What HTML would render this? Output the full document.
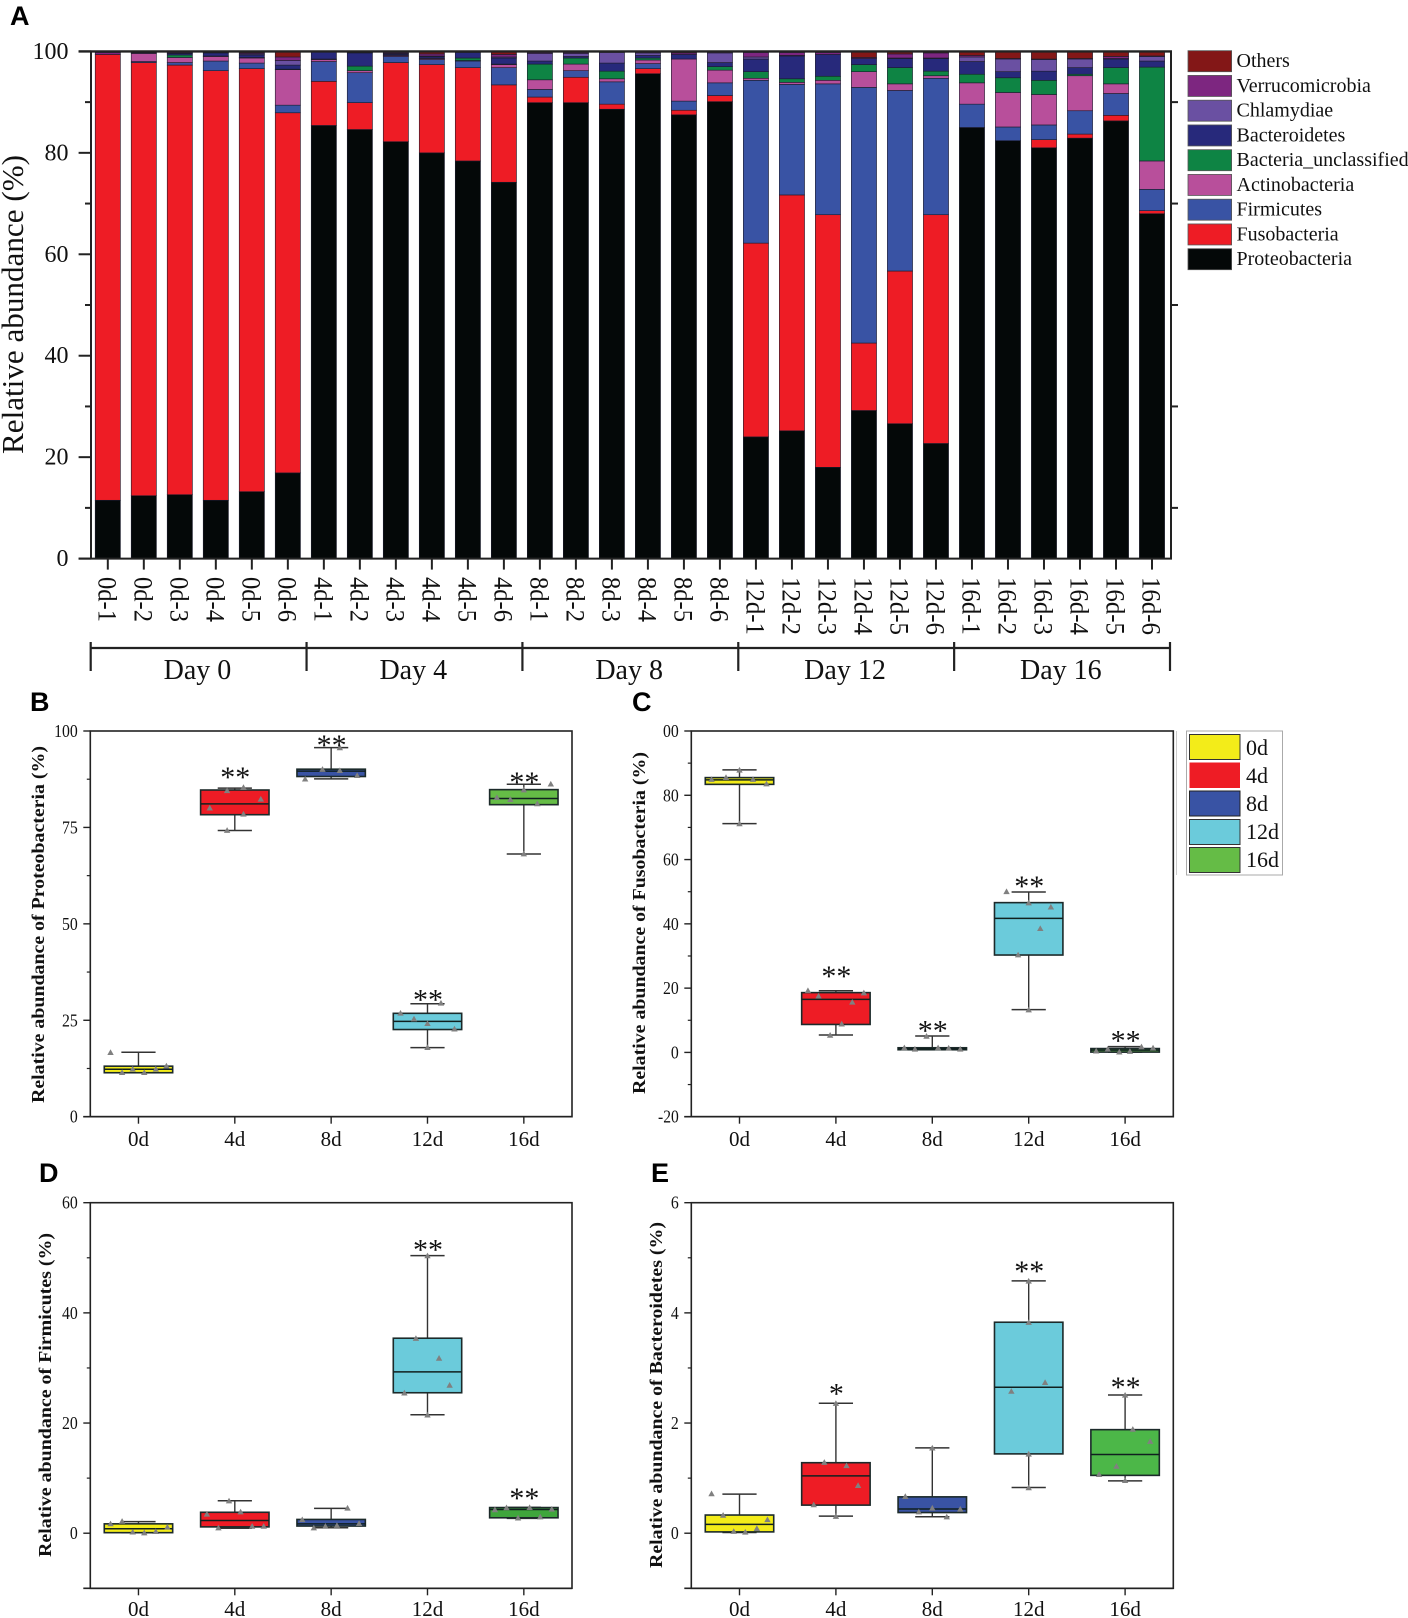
<!DOCTYPE html>
<html lang="en">
<head>
<meta charset="utf-8">
<title>Relative abundance of bacterial phyla</title>
<style>
html,body{margin:0;padding:0;background:#fff;}
svg{display:block;width:1408px;height:1618px;}
text{font-family:"Liberation Serif",serif;fill:#111;}
.plabel{font-family:"Liberation Sans",sans-serif;font-weight:700;fill:#000;}
.ytitle{font-weight:700;font-size:17.5px;}
</style>
</head>
<body>
<svg id="figure" xmlns="http://www.w3.org/2000/svg" width="1408" height="1618" viewBox="0 0 1408 1618">
  <rect x="0" y="0" width="1408" height="1618" fill="#fff"/>
  <text class="plabel" x="10" y="25" font-size="27">A</text>
  <text class="plabel" x="30" y="711" font-size="27">B</text>
  <text class="plabel" x="632" y="711" font-size="27">C</text>
  <text class="plabel" x="39" y="1182" font-size="27">D</text>
  <text class="plabel" x="651" y="1182" font-size="27">E</text>

  <text transform="translate(23,454) rotate(-90)" font-size="31" textLength="299" lengthAdjust="spacingAndGlyphs">Relative abundance (%)</text>
  <text class="ytitle" transform="translate(44,1103) rotate(-90)" textLength="357" lengthAdjust="spacingAndGlyphs">Relative abundance of Proteobacteria (%)</text>
  <text class="ytitle" transform="translate(645,1094) rotate(-90)" textLength="342" lengthAdjust="spacingAndGlyphs">Relative abundance of Fusobacteria (%)</text>
  <text class="ytitle" transform="translate(51,1557) rotate(-90)" textLength="324" lengthAdjust="spacingAndGlyphs">Relative abundance of Firmicutes (%)</text>
  <text class="ytitle" transform="translate(662,1568) rotate(-90)" textLength="346" lengthAdjust="spacingAndGlyphs">Relative abundance of Bacteroidetes (%)</text>

  <g id="panel-a"></g>
  <g id="group-brackets"></g>
  <g id="legend-a"></g>
  <g id="panel-b"></g>
  <g id="panel-c"></g>
  <g id="panel-d"></g>
  <g id="panel-e"></g>

  <g>
    <line x1="1176.5" y1="731" x2="1176.5" y2="875" stroke="#ccc" stroke-width="1"/>
    <rect x="1186.5" y="731" width="96" height="144" fill="#fff" stroke="#aaa" stroke-width="1"/>
    <rect x="1189.5" y="734.5" width="50.5" height="25" fill="#f3ec19" stroke="#333" stroke-width="1"/>
    <rect x="1189.5" y="762.5" width="50.5" height="25.5" fill="#ee1c25"/>
    <rect x="1189.5" y="791" width="50.5" height="25" fill="#3953a4" stroke="#222" stroke-width="1"/>
    <rect x="1189.5" y="819.5" width="50.5" height="25" fill="#6bcbdb" stroke="#333" stroke-width="1"/>
    <rect x="1189.5" y="847.5" width="50.5" height="25" fill="#65bc46" stroke="#333" stroke-width="1"/>
    <text x="1246" y="755" font-size="22">0d</text>
    <text x="1246" y="783" font-size="22">4d</text>
    <text x="1246" y="811" font-size="22">8d</text>
    <text x="1246" y="839" font-size="22">12d</text>
    <text x="1246" y="867" font-size="22">16d</text>
  </g>
</svg>

<script>
/* ---------- Panel A data ---------- */
const sampleLabels = ["0d-1","0d-2","0d-3","0d-4","0d-5","0d-6","4d-1","4d-2","4d-3","4d-4","4d-5","4d-6","8d-1","8d-2","8d-3","8d-4","8d-5","8d-6","12d-1","12d-2","12d-3","12d-4","12d-5","12d-6","16d-1","16d-2","16d-3","16d-4","16d-5","16d-6"];
const dayGroups = ["Day 0","Day 4","Day 8","Day 12","Day 16"];
const phylumNames = ["Proteobacteria","Fusobacteria","Firmicutes","Actinobacteria","Bacteria_unclassified","Bacteroidetes","Chlamydiae","Verrucomicrobia","Others"];
const proteobacteria = [11.5,12.4,12.6,11.5,13.2,16.9,85.4,84.6,82.2,80,78.4,74.2,89.9,89.9,88.6,95.6,87.5,90.1,24,25.2,18,29.2,26.6,22.7,85,82.4,81,82.9,86.3,68];
const fusobacteria = [87.9,85.4,84.7,84.7,83.4,71,8.7,5.3,15.6,17.4,18.4,19.2,1.1,5,1,1,0.9,1.2,38.2,46.5,49.8,13.3,30.1,45.1,0,0,1.6,0.8,1.1,0.6];
const firmicutes = [0,0.2,0.5,1.9,1.1,1.5,3.9,5.9,1.2,1,1.3,3.4,1.5,1.3,4.4,1,1.8,2.5,32.1,21.8,25.8,50.4,35.6,26.9,4.6,2.7,2.9,4.6,4.3,4.2];
const actinobacteria = [0,1.6,1,0.9,1,7,0.4,0.4,0.2,0.2,0.1,0.6,1.9,1.3,0.6,0.7,8.3,2.5,0.4,0.4,0.7,3.1,1.3,0.5,4.2,6.8,6,6.9,1.9,5.6];
const bacteriaUnclassified = [0,0,0.5,0.1,0.1,0.1,0.1,0.9,0.1,0.1,0.5,0.1,3.1,1.2,1.5,0.4,0,0.7,1.3,0.7,0.8,1.4,3.2,0.9,1.7,2.9,2.8,0.3,3.2,18.5];
const bacteroidetes = [0,0.1,0.3,0.6,0.5,0.8,1.4,2.6,0.2,0.3,1.1,1.2,0.6,0.3,1.6,0.5,0.9,0.8,2.5,4.5,4.3,1.2,1.8,2.5,2.5,1.2,1.8,1.3,1.7,1.2];
const chlamydiae = [0,0.1,0.1,0.1,0.2,0.9,0,0.1,0.1,0.1,0.1,0.2,1.5,0.6,2.1,0.5,0,1.9,0.4,0.1,0,0,0.1,0.1,0.9,2.5,2.3,1.7,0.1,0.9];
const verrucomicrobia = [0.4,0.1,0.2,0.1,0.2,0.7,0.1,0.1,0.2,0.4,0.1,0.5,0.2,0.2,0.1,0.2,0.3,0.2,0.9,0.6,0.4,0.2,0.8,1,0.3,0.1,0.1,0.1,0.4,0.1];
const others = [0.2,0.1,0.1,0.1,0.3,1.1,0,0.1,0.2,0.5,0,0.6,0.2,0.2,0.1,0.1,0.3,0.1,0.2,0.2,0.2,1.2,0.5,0.3,0.8,1.4,1.5,1.4,1,0.9];
const aTicks = [0,20,40,60,80,100];
const aMinorTicks = [10,30,50,70,90];

/* ---------- Box plot shared ---------- */
const dayLabels = ["0d","4d","8d","12d","16d"];

/* Panel B: Proteobacteria */
const bHigh = [16.7,85.2,95.7,29.3,86.2];
const bQ3 = [13.1,84.7,90.1,26.8,84.8];
const bMedian = [12.3,81.1,89.6,24.7,82.5];
const bQ1 = [11.4,78.3,88.2,22.6,80.9];
const bLow = [11.4,74.2,87.6,17.9,68.1];
const bPoints = [[16.7,11.5,12.4,11.5,12.4,13.2],[80.1,84.6,74.3,85.4,78.5,82.4],[87.6,90.1,89.8,95.7,88.5],[26.9,25.4,24.2,18,29.5,22.8],[82.8,82.3,84.8,68.2,81.2,86.3]];
const bJitter = [[-29,-17,-6,6,18,29],[-26,-8,-8,9,9,27],[-27,-9,9,9,27],[-28,-14,0,0,14,28],[-28,-14,0,0,14,28]];
const bStarHeights = [null,89.2,97.6,31.6,87.9];
const bStarText = ["","**","**","**","**"];
const bTicks = [0,25,50,75,100];
const bTickLabels = ["0","25","50","75","100"];
const bMinorTicks = [12.5,37.5,62.5,87.5];

/* Panel C: Fusobacteria */
const cHigh = [87.9,19.2,5.1,49.9,1.8];
const cQ3 = [85.5,18.6,1.45,46.6,1.2];
const cMedian = [84.8,16.5,1.1,41.7,0.7];
const cQ1 = [83.4,8.7,0.83,30.3,0.1];
const cLow = [71.2,5.4,0.9,13.3,0.1];
const cPoints = [[85,85.6,87.9,71.2,85,83.6],[19.3,17.6,5.4,8.9,15.7,18.6],[1.5,1.1,5.1,1.5,1.4,1.1],[50.1,30.4,46.6,13.3,38.6,45.3],[0.5,1.1,0.2,0.4,1.8,1.45]];
const cJitter = [[-29,-14,0,0,14,28],[-29,-18,-6,6,17,29],[-29,-18,-6,6,17,29],[-23,-11,0,0,12,23],[-30,-18,-6,5,17,29]];
const cStarHeights = [null,25.1,8.2,53.1,5.1];
const cStarText = ["","**","**","**","**"];
const cTicks = [-20,0,20,40,60,80,100];
const cTickLabels = ["-20","0","20","40","60","80","00"];
const cMinorTicks = [-10,10,30,50,70,90];

/* Panel D: Firmicutes */
const dHigh = [2.1,5.9,4.5,50.4,4.7];
const dQ3 = [1.7,3.8,2.5,35.4,4.66];
const dMedian = [0.8,2.3,1.7,29.3,4.3];
const dQ1 = [0.1,1.15,1.3,25.5,2.8];
const dLow = [0.1,0.9,1,21.5,2.7];
const dPoints = [[1.75,2.2,0.25,0.1,0.35,1.15],[3.5,1,5.9,3.9,1.3,1.3],[2.5,1,1.3,1.45,4.6,1.8],[25.5,35.4,50.4,21.5,31.8,26.9],[4.3,4.66,2.8,4.7,3,4.4]];
const dJitter = [[-29,-17,-6,6,18,30],[-29,-17,-6,6,18,30],[-30,-18,-6,6,17,29],[-24,-12,0,0,12,23],[-30,-18,-6,6,17,29]];
const dStarHeights = [null,null,null,52.3,7.2];
const dStarText = ["","","","**","**"];
const dTicks = [0,20,40,60];
const dTickLabels = ["0","20","40","60"];
const dMinorTicks = [-10,10,30,50];

/* Panel E: Bacteroidetes */
const eHigh = [0.71,2.36,1.55,4.58,2.51];
const eQ3 = [0.33,1.28,0.66,3.83,1.88];
const eMedian = [0.16,1.04,0.44,2.65,1.43];
const eQ1 = [0.024,0.51,0.375,1.44,1.05];
const eLow = [0.012,0.31,0.3,0.83,0.95];
const ePoints = [[0.72,0.33,0.036,0.024,0.09,0.25],[0.52,1.29,2.36,0.31,1.23,0.87],[0.67,0.39,1.55,0.46,0.3,0.44],[2.58,4.58,3.83,1.44,0.83,2.74],[1.07,1.22,2.51,0.96,1.89,1.67]];
const eJitter = [[-29,-17,-6,6,18,29],[-23,-12,0,0,11,23],[-28,-14,0,0,15,29],[-18,0,0,0,0,17],[-27,-9,0,0,8,26]];
const eStarHeights = [null,2.62,null,4.84,2.74];
const eStarText = ["","*","","**","**"];
const eTicks = [0,2,4,6];
const eTickLabels = ["0","2","4","6"];
const eMinorTicks = [-1,1,3,5];

/* ---------- helpers ---------- */
const NS = "http://www.w3.org/2000/svg";
function make(tag, attrs, parent, txt){
  const el = document.createElementNS(NS, tag);
  for (const k in attrs) el.setAttribute(k, attrs[k]);
  if (txt !== undefined) el.textContent = txt;
  parent.appendChild(el);
  return el;
}
const AXIS = "#222";

/* ---------- Panel A ---------- */
const phylumSeries = [proteobacteria,fusobacteria,firmicutes,actinobacteria,bacteriaUnclassified,bacteroidetes,chlamydiae,verrucomicrobia,others];
const phylumColors = ["#040808","#ee1c25","#3953a4","#b84f9b","#0e8444","#27297b","#6a50a2","#7d2680","#831717"];
const aFrame = {l:89.8, r:1170, t:51.4, b:558.6, left:91, right:1171};
function aX(i){ return aFrame.l + (i + 0.5) * (aFrame.r - aFrame.l) / sampleLabels.length; }
function aY(v){ return aFrame.b - v / 100 * (aFrame.b - aFrame.t); }

(function drawA(){
  const g = document.getElementById("panel-a");
  const barW = 25.2;
  sampleLabels.forEach(function(lab, i){
    let base = 0;
    phylumSeries.forEach(function(series, s){
      const v = series[i];
      if (v > 0) {
        const r = make("rect", {x:aX(i)-barW/2, y:aY(base+v), width:barW, height:aY(base)-aY(base+v), fill:phylumColors[s], stroke:"#1b1b2b", "stroke-width":0.6}, g);
        
        
      }
      base += v;
    });
    const t = make("line", {x1:aX(i), x2:aX(i), y1:aFrame.b, y2:aFrame.b+11, stroke:AXIS, "stroke-width":2}, g);
    
    
    const tx = make("text", {transform:"translate("+(aX(i)-9.5)+",577) rotate(90)", "font-size":26, textLength: lab.length === 5 ? 58 : 45, lengthAdjust:"spacingAndGlyphs"}, g, lab);
    
    
  });
  const al = make("line", {x1:aFrame.left, x2:aFrame.left, y1:aFrame.t, y2:aFrame.b, stroke:AXIS, "stroke-width":2}, g);
  
  
  const ar = make("line", {x1:aFrame.right, x2:aFrame.right, y1:aFrame.t, y2:aFrame.b, stroke:AXIS, "stroke-width":2}, g);
  
  
  const at = make("line", {x1:78.6, x2:aFrame.right+1, y1:aFrame.t, y2:aFrame.t, stroke:AXIS, "stroke-width":2.4}, g);
  
  
  const ab = make("line", {x1:78.6, x2:aFrame.right+1, y1:aFrame.b, y2:aFrame.b, stroke:AXIS, "stroke-width":2}, g);
  
  
  aTicks.forEach(function(v){
    const t = make("line", {x1:78.6, x2:aFrame.left, y1:aY(v), y2:aY(v), stroke:AXIS, "stroke-width":2}, g);
    
    
    const tx = make("text", {x:68.5, y:aY(v)+7.5, "text-anchor":"end", "font-size":24}, g, String(v));
    
    
  });
  aMinorTicks.forEach(function(v){
    const t = make("line", {x1:85, x2:aFrame.left, y1:aY(v), y2:aY(v), stroke:AXIS, "stroke-width":2}, g);
    
    
    const t2 = make("line", {x1:aFrame.right, x2:aFrame.right+7, y1:aY(v), y2:aY(v), stroke:AXIS, "stroke-width":2}, g);
    
    
  });

  const gb = document.getElementById("group-brackets");
  const bl = make("line", {x1:90.7, x2:1170, y1:648, y2:648, stroke:"#222", "stroke-width":2.2}, gb);
  
  
  const span = (1170 - 90.7) / dayGroups.length;
  for (let i = 0; i <= dayGroups.length; i++) {
    const tk = make("line", {x1:90.7+i*span, x2:90.7+i*span, y1:642, y2:671, stroke:"#222", "stroke-width":2.2}, gb);
    
    
  }
  dayGroups.forEach(function(d, i){
    const tx = make("text", {x:89.5+(i+.5)*span, y:679, "text-anchor":"middle", "font-size":28}, gb, d);
    
    
  });

  const gl = document.getElementById("legend-a");
  phylumNames.slice().reverse().forEach(function(name, i){
    const color = phylumColors[phylumNames.length - 1 - i];
    const sw = make("rect", {x:1188, y:50.7+i*24.75, width:43.6, height:21, fill:color, stroke:"#555", "stroke-width":0.8}, gl);
    
    
    const tx = make("text", {x:1236.5, y:67+i*24.75, "font-size":20}, gl, name);
    
    
  });
})();

/* ---------- Box panels ---------- */
function drawBoxPanel(id, f, fills, q1, med, q3, low, high, points, jitter, starH, starText, ticks, tickLabels, minor, labelBase){
  const g = document.getElementById(id);
  const band = (f.r - f.l) / dayLabels.length;
  function xOf(i){ return f.l + (i + 0.5) * band; }
  function yOf(v){ return f.b - (v - f.min) / (f.max - f.min) * (f.b - f.t); }
  const frame = make("rect", {x:f.l, y:f.t, width:f.r-f.l, height:f.b-f.t, fill:"none", stroke:AXIS, "stroke-width":1.6}, g);
  
  
  const base = make("line", {x1:f.l-7, x2:f.r, y1:f.b, y2:f.b, stroke:AXIS, "stroke-width":1.6}, g);
  
  
  ticks.forEach(function(v, i){
    const t = make("line", {x1:f.l-7, x2:f.l, y1:yOf(v), y2:yOf(v), stroke:AXIS, "stroke-width":1.4}, g);
    
    
    const lab = tickLabels[i];
    const tx = make("text", {x:f.l-12.5, y:yOf(v)+6, "text-anchor":"end", "font-size":18, textLength: lab.replace('-','').length*7.9 + (lab[0]==='-' ? 5 : 0), lengthAdjust:"spacingAndGlyphs"}, g, lab);
    
    
  });
  minor.forEach(function(v){
    const t = make("line", {x1:f.l-3.5, x2:f.l, y1:yOf(v), y2:yOf(v), stroke:AXIS, "stroke-width":1.2}, g);
    
    
  });
  dayLabels.forEach(function(lab, i){
    const x = xOf(i);
    const t = make("line", {x1:x, x2:x, y1:f.b, y2:f.b+7, stroke:AXIS, "stroke-width":1.4}, g);
    
    
    const tx = make("text", {x:x, y:labelBase, "text-anchor":"middle", "font-size":21}, g, lab);
    
    

    const boxW = band * 0.71, capW = band * 0.355;
    const w = make("line", {x1:x, x2:x, y1:yOf(high[i]), y2:yOf(low[i]), stroke:"#333", "stroke-width":1.4}, g);
    
    
    const ch = make("line", {x1:x-capW/2, x2:x+capW/2, y1:yOf(high[i]), y2:yOf(high[i]), stroke:"#333", "stroke-width":1.5}, g);
    
    
    const cl = make("line", {x1:x-capW/2, x2:x+capW/2, y1:yOf(low[i]), y2:yOf(low[i]), stroke:"#333", "stroke-width":1.5}, g);
    
    
    const r = make("rect", {x:x-boxW/2, y:yOf(q3[i]), width:boxW, height:yOf(q1[i])-yOf(q3[i]), fill:fills[i], stroke:"#1c2a2a", "stroke-width":1.6}, g);
    
    
    const m = make("line", {x1:x-boxW/2, x2:x+boxW/2, y1:yOf(med[i]), y2:yOf(med[i]), stroke:"#10201f", "stroke-width":1.5}, g);
    
    
    points[i].forEach(function(v, k){
      const px = x + jitter[i][k] / 100 * band, py = yOf(v);
      const p = make("polygon", {points:(px-3.2)+","+(py+2.7)+" "+(px+3.2)+","+(py+2.7)+" "+px+","+(py-3), fill:"#808080"}, g);
      
      
    });
    if (starText[i]) {
      const s = make("text", {x:x+0.5, y:yOf(starH[i])+14.5, "text-anchor":"middle", "font-size":30}, g, starText[i]);
      
      
    }
  });
}
const fillsB = ["#f3ec19","#ee1c25","#3953a4","#6bcbdb","#65bc46"];
const fillsD = ["#f3ec19","#ee1c25","#3953a4","#6bcbdb","#3fa63c"];
const fillsE = ["#f3ec19","#ee1c25","#3953a4","#6bcbdb","#4cb748"];
drawBoxPanel("panel-b", {l:90.3,r:572,t:731,b:1116.7,min:0,max:100}, fillsB, bQ1,bMedian,bQ3,bLow,bHigh,bPoints,bJitter,bStarHeights,bStarText,bTicks,bTickLabels,bMinorTicks,1146);
drawBoxPanel("panel-c", {l:691.3,r:1173.3,t:731,b:1116.7,min:-20,max:100}, fillsB, cQ1,cMedian,cQ3,cLow,cHigh,cPoints,cJitter,cStarHeights,cStarText,cTicks,cTickLabels,cMinorTicks,1146);
drawBoxPanel("panel-d", {l:90.3,r:572,t:1202.7,b:1588.3,min:-10,max:60}, fillsD, dQ1,dMedian,dQ3,dLow,dHigh,dPoints,dJitter,dStarHeights,dStarText,dTicks,dTickLabels,dMinorTicks,1616);
drawBoxPanel("panel-e", {l:691.3,r:1173.3,t:1202.7,b:1588.3,min:-1,max:6}, fillsE, eQ1,eMedian,eQ3,eLow,eHigh,ePoints,eJitter,eStarHeights,eStarText,eTicks,eTickLabels,eMinorTicks,1616);
</script>
</body>
</html>
